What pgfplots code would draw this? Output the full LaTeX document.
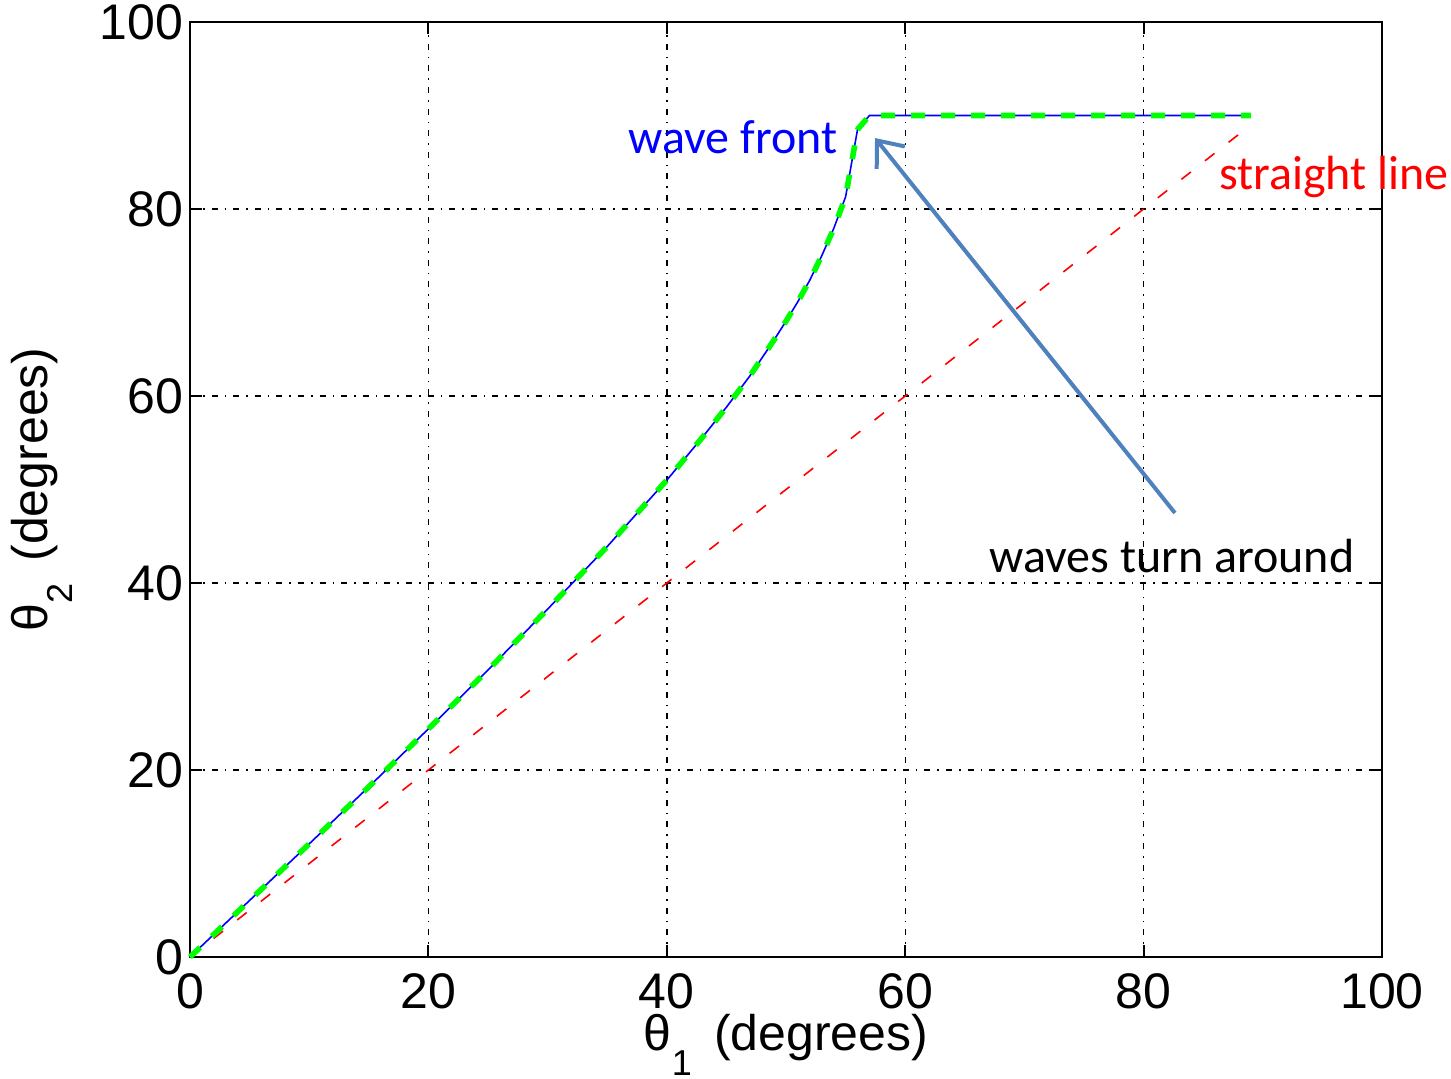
\documentclass[border=0pt]{standalone}
\usepackage{fontspec}
\setmainfont{Liberation Sans}
\newfontfamily\calibri{Carlito}
\usepackage{pgfplots}
\pgfplotsset{compat=1.18}
\usetikzlibrary{arrows.meta}
\definecolor{arrowblue}{RGB}{79,129,189}
\definecolor{mgreen}{RGB}{0,255,0}
\begin{document}
\begin{tikzpicture}
\begin{axis}[
  at={(0,0)}, anchor=south west,
  scale only axis, width=596pt, height=467.5pt,
  xmin=0,xmax=100,ymin=0,ymax=100,
  xtick={0,20,...,100}, ytick={0,20,...,100},
  grid=major,
  major grid style={black, line width=0.7pt, dash pattern=on 3pt off 3.5pt on 0.8pt off 3.5pt},
  axis line style={line width=1.2pt},
  major tick length=6pt,
  tick style={black, line width=1pt},
  tick align=inside,
  ticklabel style={font=\fontsize{25}{28}\selectfont},
  xticklabel style={yshift=-5pt},
  /pgf/number format/assume math mode=true,
  xlabel={θ\raisebox{-0.5em}{\fontsize{18}{20}\selectfont 1}\, (degrees)},
  ylabel={θ\raisebox{-0.5em}{\fontsize{18}{20}\selectfont 2}\, (degrees)},
  label style={font=\fontsize{25}{30}\selectfont},
  xlabel style={at={(axis description cs:0.5,-0.094)}, anchor=center},
  ylabel style={at={(axis description cs:-0.124,0.5)}, anchor=center},
  clip=false,
]
\addplot[red, line width=0.8pt, dash pattern=on 6pt off 9pt] coordinates {(0,0) (89,89)};
\addplot[blue, line width=0.8pt] coordinates {
(0,0) (5,6.05) (10,12.1) (15,18.2) (20,24.4) (25,30.7) (30,37.2) (35,43.9) (40,51.0)
(43,55.6) (45,58.8) (47,62.2) (49,66.0) (50,68.0) (51,70.1) (52,72.4) (53,75.0)
(54,77.9) (55,81.3) (56,88.5) (57,90) (60,90) (70,90) (80,90) (89,90)};
\addplot[mgreen, line width=2.8pt, dash pattern=on 7pt off 8pt] coordinates {
(0,0) (5,6.05) (10,12.1) (15,18.2) (20,24.4) (25,30.7) (30,37.2) (35,43.9) (40,51.0)
(43,55.6) (45,58.8) (47,62.2) (49,66.0) (50,68.0) (51,70.1) (52,72.4) (53,75.0)
(54,77.9) (55,81.3) (56,88.5) (57,90) (60,90) (70,90) (80,90) (89,90)};
\draw[arrowblue, line width=2pt, -{Straight Barb[length=11pt,width=18pt]}] (axis cs:82.63,47.49) -- (axis cs:57.47,87.59);
\node[text=blue, font=\calibri\fontsize{24}{28}\selectfont] at (axis cs:45.55,87.7) {wave front};
\node[text=red, font=\calibri\fontsize{24}{28}\selectfont] at (axis cs:95.97,83.42) {straight line};
\node[text=black, font=\calibri\fontsize{24}{28}\selectfont] at (axis cs:82.38,42.89) {waves turn around};
\end{axis}
\pgfresetboundingbox
\path[use as bounding box] (-95pt,-60.5pt) rectangle (630.5pt,478.5pt);
\end{tikzpicture}
\end{document}
